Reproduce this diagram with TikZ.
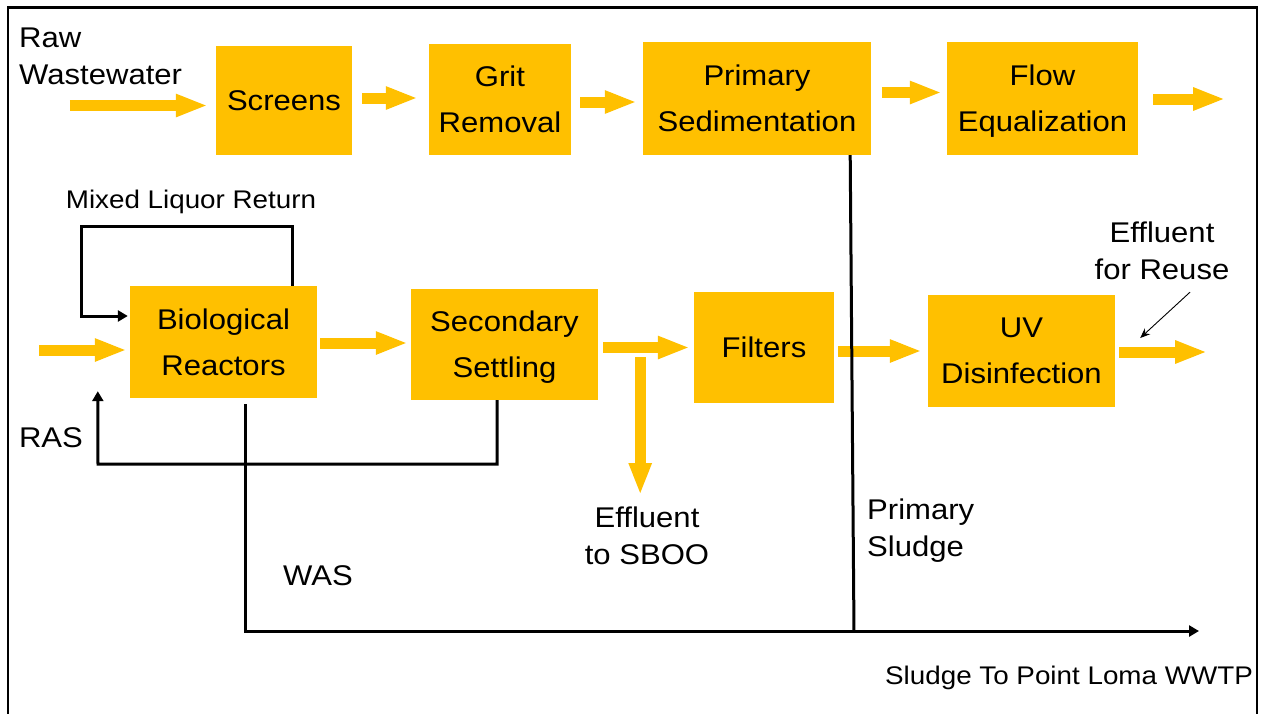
\documentclass[tikz,border=0pt]{standalone}
\usepackage{fontspec}
\setmainfont{Liberation Sans}[FakeStretch=1.09]
\usetikzlibrary{arrows.meta,calc}
\definecolor{gold}{HTML}{FFC000}
\begin{document}
\begin{tikzpicture}[x=1pt,y=-1pt,
 box/.style={fill=gold, inner sep=0, align=center, text depth=0pt, font=\fontsize{28.5}{46}\selectfont},
 lbl/.style={inner sep=0, align=center, font=\fontsize{28.5}{37}\selectfont},
 smalllbl/.style={inner sep=0, font=\fontsize{25.5}{30}\selectfont},
 yarrow/.style={draw=gold, line width=11pt, -{Triangle[width=21pt,length=32pt]}},
 karrow/.style={draw=black, line width=3pt, -{Triangle[width=11pt,length=10pt]}},
 kline/.style={draw=black, line width=3pt},
 thinarrow/.style={draw=black, line width=0.9pt, -{Stealth[width=8pt,length=10pt]}}
]
\useasboundingbox (0,0) rectangle (1264,713);
\draw[line width=2.5pt] (8,730) -- (8,7.5) -- (1257,7.5) -- (1257,730);

% process boxes
\node[box, minimum width=136pt, minimum height=109pt] (screens) at (284,100.5) {Screens};
\node[box, minimum width=142pt, minimum height=111pt] (grit) at (500,99.5) {Grit\\Removal};
\node[box, minimum width=228pt, minimum height=113pt] (prim) at (757,98.5) {Primary\\Sedimentation};
\node[box, minimum width=191pt, minimum height=113pt] (flow) at (1042.5,98.5) {Flow\\Equalization};
\node[box, minimum width=187pt, minimum height=112pt] (bio) at (223.5,342) {Biological\\Reactors};
\node[box, minimum width=187pt, minimum height=111pt] (sec) at (504.5,344.5) {Secondary\\Settling};
\node[box, minimum width=140pt, minimum height=111pt] (filt) at (764,347.5) {Filters};
\node[box, minimum width=187pt, minimum height=112pt] (uv) at (1021.5,351) {UV\\Disinfection};

% labels
\node[lbl, anchor=west, align=left] (raw) at (19,56.5) {Raw\\Wastewater};
\node[smalllbl] (mlr) at (191,201.5) {Mixed Liquor Return};
\node[lbl] (ras) at (51,438) {RAS};
\node[lbl] (was) at (318,576) {WAS};
\node[lbl] (sboo) at (647,536) {Effluent\\to SBOO};
\node[lbl, anchor=west, align=left] (ps) at (867,530.5) {Primary\\Sludge};
\node[lbl] (reuse) at (1162,251) {Effluent\\for Reuse};
\node[smalllbl] (lpt) at (1069,677.5) {Sludge To Point Loma WWTP};

% yellow flow arrows
\draw[yarrow] ($(screens.west)+(-146,5)$) -- ($(screens.west)+(-8,5)$);
\draw[yarrow] ($(screens.east)+(10,-2.5)$) -- ($(grit.west)+(-11,-1.5)$);
\draw[yarrow] ($(grit.east)+(9,2.5)$) -- ($(prim.west)+(-6,3.5)$);
\draw[yarrow] ($(prim.east)+(11,-6)$) -- ($(flow.west)+(-5,-6)$);
\draw[yarrow] ($(flow.east)+(15,0.5)$) -- ($(flow.east)+(87,0.5)$);
\draw[yarrow] ($(bio.west)+(-91,8)$) -- ($(bio.west)+(-3,8)$);
\draw[yarrow] ($(bio.east)+(3,1)$) -- ($(sec.west)+(-3,-1.5)$);
\draw[yarrow] ($(sec.east)+(5,3)$) -- ($(filt.west)+(-4,0)$);
\draw[yarrow] ($(sec.east)+(42,12.5)$) -- ($(sec.east)+(42,150.5)$);
\draw[yarrow] ($(filt.east)+(4,3.5)$) -- ($(uv.west)+(-6,0)$);
\draw[yarrow] ($(uv.east)+(4,1)$) -- ($(uv.east)+(92,1)$);

% black sludge / return lines
\coordinate (mlrcorner) at (81,226);
\draw[karrow] ($(bio.north west)+(163,0)$) |- (mlrcorner) |- ($(bio.west)+(-2,-26)$);
\coordinate (rascorner) at (98,464);
\draw[karrow] ($(sec.south)+(-7.5,0)$) |- (rascorner) -- ($(bio.south west)+(-32,-7)$);
\coordinate (sludgeend) at (1199,631);
\draw[karrow] ($(bio.south)+(21.5,6)$) |- (sludgeend);
\draw[kline] ($(prim.south east)+(-21,0)$) -- (854,632.5);

% pointer to effluent for reuse
\draw[thinarrow] ($(reuse.south)+(28,12)$) -- ($(uv.east)+(25,-13)$);
\end{tikzpicture}
\end{document}
